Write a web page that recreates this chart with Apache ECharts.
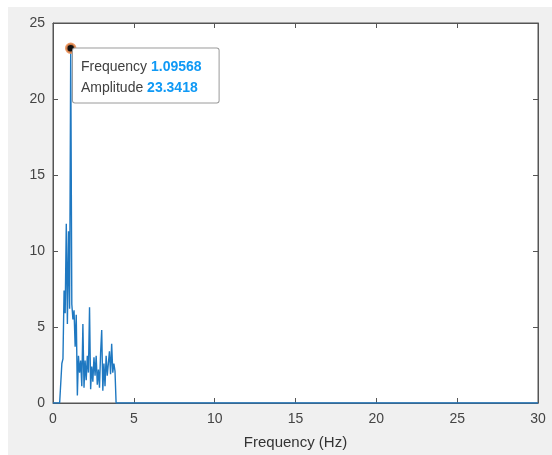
<!DOCTYPE html>
<html>
<head>
<meta charset="utf-8">
<script src="https://cdn.jsdelivr.net/npm/echarts@6/dist/echarts.min.js"></script>
<style>
  html, body { margin: 0; padding: 0; background: #fff; }
  #bg { position: absolute; left: 8px; top: 7px; right: 0; bottom: 0; background: #f0f0f0; }
  #main { position: absolute; left: 0; top: 0; width: 552px; height: 455px; }
</style>
</head>
<body>
<div id="bg"></div>
<div id="main"></div>
<script>
// spectrum samples
var freq = [0.000, 0.068, 0.137, 0.205, 0.274, 0.342, 0.411, 0.479, 0.548, 0.616,
  0.685, 0.753, 0.822, 0.890, 0.959, 1.027, 1.09568, 1.164, 1.233, 1.301,
  1.370, 1.438, 1.507, 1.575, 1.644, 1.712, 1.781, 1.849, 1.918, 1.986,
  2.054, 2.123, 2.191, 2.260, 2.328, 2.397, 2.465, 2.534, 2.602, 2.671,
  2.739, 2.808, 2.876, 2.945, 3.013, 3.082, 3.150, 3.218, 3.287, 3.355,
  3.424, 3.492, 3.561, 3.629, 3.698, 3.766, 3.835, 3.903, 30.0];
var amp = [0, 0, 0, 0, 0, 0, 0, 0, 2.6, 2.9,
  7.4, 5.9, 11.8, 5.2, 11.3, 6.2, 23.3418, 6.5, 5.5, 6.1,
  3.7, 5.8, 0.5, 3.1, 2.0, 2.8, 1.1, 5.2, 1.0, 2.8,
  1.5, 3.1, 2.0, 6.3, 0.9, 2.4, 1.4, 3.0, 1.8, 3.1,
  1.2, 2.2, 1.0, 3.3, 4.8, 0.8, 2.6, 1.1, 3.1, 1.8,
  2.6, 3.4, 1.9, 3.9, 2.0, 2.6, 2.1, 0, 0];

var xTicks = [0, 5, 10, 15, 20, 25, 30];
var yTicks = [0, 5, 10, 15, 20, 25];
var peakFreq = '1.09568';
var peakAmp = '23.3418';

var dom = document.getElementById('main');
var myChart = echarts.init(dom, null, { renderer: 'canvas' });

var font = '"Liberation Sans", Arial, Helvetica, sans-serif';
var axisCol = '#555';

var data = freq.map(function (f, i) { return [f, amp[i]]; });

function tick() {
  return { show: true, inside: true, length: 5, lineStyle: { color: axisCol } };
}

var option = {
  animation: false,
  grid: {
    left: 53, top: 23, width: 485, height: 384,
    show: true, backgroundColor: '#fff', borderColor: axisCol, borderWidth: 1
  },
  xAxis: [
    {
      type: 'value', position: 'bottom',
      min: xTicks[0], max: xTicks[xTicks.length - 1], interval: 5,
      name: 'Frequency (Hz)', nameLocation: 'middle', nameGap: 32,
      nameTextStyle: { fontFamily: font, fontSize: 15, color: '#333' },
      axisLine: { show: true, onZero: false, lineStyle: { color: axisCol } },
      axisTick: tick(),
      axisLabel: { fontFamily: font, fontSize: 14, color: '#444', margin: 9 },
      splitLine: { show: false }
    },
    {
      type: 'value', position: 'top',
      min: xTicks[0], max: xTicks[xTicks.length - 1], interval: 5,
      axisLine: { show: true, onZero: false, lineStyle: { color: axisCol } },
      axisTick: tick(), axisLabel: { show: false }, splitLine: { show: false }
    }
  ],
  yAxis: [
    {
      type: 'value', position: 'left',
      min: yTicks[0], max: yTicks[yTicks.length - 1], interval: 5,
      axisLine: { show: true, onZero: false, lineStyle: { color: axisCol } },
      axisTick: tick(),
      axisLabel: { fontFamily: font, fontSize: 14, color: '#444', margin: 8 },
      splitLine: { show: false }
    },
    {
      type: 'value', position: 'right',
      min: yTicks[0], max: yTicks[yTicks.length - 1], interval: 5,
      axisLine: { show: true, onZero: false, lineStyle: { color: axisCol } },
      axisTick: tick(), axisLabel: { show: false }, splitLine: { show: false }
    }
  ],
  series: [
    {
      type: 'line',
      data: data,
      showSymbol: false,
      lineStyle: { color: '#1f78c1', width: 1.4 },
      markPoint: {
        symbol: 'circle',
        symbolSize: 9,
        itemStyle: { color: '#111', borderColor: 'rgba(235,140,80,0.85)', borderWidth: 2.5 },
        label: {
          show: true,
          position: [8, 6],
          align: 'left',
          verticalAlign: 'top',
          backgroundColor: '#fff',
          borderColor: '#9a9a9a',
          borderWidth: 1,
          borderRadius: 2,
          padding: [8, 17, 4, 8],
          fontFamily: font,
          fontSize: 14,
          lineHeight: 21,
          color: '#333',
          formatter: '{a|Frequency} {b|' + peakFreq + '}\n{a|Amplitude} {b|' + peakAmp + '}',
          rich: {
            a: { fontFamily: font, fontSize: 14, color: '#404040', lineHeight: 21 },
            b: { fontFamily: font, fontSize: 14, color: '#0f99f5', fontWeight: 'bold', lineHeight: 21 }
          }
        },
        data: [{ coord: [Number(peakFreq), Number(peakAmp)] }]
      }
    }
  ]
};

myChart.setOption(option);
window.addEventListener('resize', myChart.resize);
</script>
</body>
</html>
